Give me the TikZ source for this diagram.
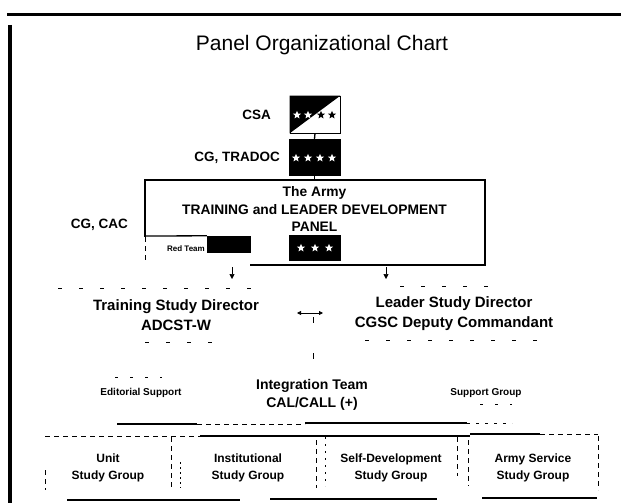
\documentclass[tikz,border=0pt]{standalone}
\usepackage{fontspec}
\setmainfont{Liberation Sans}
\usetikzlibrary{shapes.geometric,arrows.meta}
\newcommand\mystar[4]{\node[starshape,fill=#4] (#1) at (#2,#3) {};}
\begin{document}
\begin{tikzpicture}[x=1pt,y=-1pt,
  ln/.style={line width=1.3pt},
  faint/.style={line width=0.7pt,dash pattern=on 4pt off 17pt},
  thin dashed/.style={line width=0.9pt,dash pattern=on 5pt off 4pt},
  starshape/.style={star,star points=5,star point ratio=2.3,minimum size=8.5pt,inner sep=0pt,draw=none},
  blackbox/.style={fill=black,draw=black,inner sep=0pt},
  lbl/.style={font=\fontsize{13.5}{15}\selectfont\bfseries,inner sep=0pt},
  dir/.style={font=\fontsize{15}{20}\selectfont\bfseries,align=center,inner sep=0pt},
  small/.style={font=\fontsize{10}{12}\selectfont\bfseries,inner sep=0pt},
  grp/.style={font=\fontsize{12}{17}\selectfont\bfseries,align=center,inner sep=0pt},
  tip/.style={-{Triangle[length=5pt,width=5pt]}}
]
\useasboundingbox (0,0) rectangle (621,503);
\fill[white] (0,0) rectangle (621,503);
% frame lines
\draw[line width=3pt] (7,15) -- (621,15);
\draw[line width=4pt] (10,25) -- (10,503);
% title
\node[font=\fontsize{21}{24}\selectfont,inner sep=0pt] (title) at (322,45) {Panel Organizational Chart};
% CSA
\node[draw=black,line width=0.6pt,minimum width=50pt,minimum height=37pt,inner sep=0pt] (csa) at (315,114.5) {};
\fill[black] (csa.north west) -- (csa.north east) -- (csa.south west) -- cycle;
\mystar{cs1}{297}{115}{white}
\mystar{cs2}{308}{115}{white}
\mystar{cs3}{321}{115}{black}
\mystar{cs4}{332}{115}{black}
\node[lbl,anchor=east] (csalbl) at (271,115) {CSA};
% TRADOC
\node[blackbox,minimum width=51pt,minimum height=36pt] (tradoc) at (314.5,157) {};
\mystar{ts1}{296}{158}{white}
\mystar{ts2}{308}{158}{white}
\mystar{ts3}{320}{158}{white}
\mystar{ts4}{332}{158}{white}
\node[lbl,anchor=east] (tradoclbl) at (280,158) {CG, TRADOC};
% panel
\node[font=\fontsize{13.8}{17.5}\selectfont\bfseries,align=center,inner sep=0pt] (panel) at (314.5,209) {The Army\\TRAINING and LEADER DEVELOPMENT\\PANEL};
\coordinate (ptop) at (314.5,180);
\draw[ln] (250,265) -- (485,265) -- (485,180) -- (145,180) -- (145,237);
\draw[thin dashed] (145,237) -- (145,262);
\node[blackbox,minimum width=51pt,minimum height=25pt] (three) at (314.5,247.5) {};
\mystar{ps1}{301}{248}{white}
\mystar{ps2}{315}{248}{white}
\mystar{ps3}{329}{248}{white}
\node[blackbox,minimum width=43pt,minimum height=16pt] (red) at (228.5,244) {};
\node[font=\fontsize{8}{9}\selectfont\bfseries,inner sep=0pt,anchor=east] (redlbl) at (205,249) {Red Team};
\draw[ln] (145,236) -- (red.north west);
\node[lbl,anchor=east] (cac) at (128,225) {CG, CAC};
% connectors top
\draw[ln] (csa.south) -- (tradoc.north);
\draw[ln] (tradoc.south) -- (ptop);
% directors
\node[dir] (train) at (176,315) {Training Study Director\\ADCST-W};
\node[dir] (lead) at (454,314) {Leader Study Director\\CGSC Deputy Commandant};
\draw[faint] (58,288) -- (258,288);
\draw[faint] (145,342) -- (215,342);
\draw[faint] (400,286) -- (490,286);
\draw[faint] (365,340) -- (550,340);
\coordinate (ta) at (232,279);
\coordinate (la) at (386,279);
\draw[line width=0.5pt,tip] (232,267) -- (ta);
\draw[line width=0.5pt,tip] (386,267) -- (la);
\coordinate (dl) at (297,313);
\coordinate (dr) at (323,313);
\draw[line width=0.8pt,{Triangle[length=4pt,width=4pt]}-{Triangle[length=4pt,width=4pt]}] (dl) -- (dr);
\coordinate (vtop) at (313,317);
\coordinate (vbot) at (313,380);
\draw[line width=0.8pt,dash pattern=on 6pt off 30pt] (vtop) -- (vbot);
% integration row
\node[font=\fontsize{14}{18}\selectfont\bfseries,align=center,inner sep=0pt] (integ) at (312,395) {Integration Team\\CAL/CALL (+)};
\node[small] (edit) at (141,393) {Editorial Support};
\node[small] (supp) at (486,393) {Support Group};
\draw[faint,dash pattern=on 3pt off 12pt] (115,377) -- (162,377);
\draw[faint,dash pattern=on 3pt off 12pt] (480,404) -- (512,404);
\draw[ln] (117,424) -- (197,424);
\draw[thin dashed] (197,424) -- (305,424);
\draw[ln] (305,423) -- (467,423);
\draw[line width=0.8pt,dash pattern=on 3pt off 6pt] (467,423) -- (512,423);
% study groups
\node[grp,minimum width=126pt,minimum height=64pt] (unit) at (108,468) {Unit\\Study Group};
\node[grp,minimum width=136pt,minimum height=64pt] (inst) at (248,468) {Institutional\\Study Group};
\node[grp,minimum width=132pt,minimum height=64pt] (self) at (391,468) {Self-Development\\Study Group};
\node[grp,minimum width=130pt,minimum height=64pt] (army) at (533,468) {Army Service\\Study Group};
\draw[thin dashed] (45,436) -- (200,436);
\draw[ln] (200,436) -- (470,436);
\draw[ln] (470,434) -- (540,434);
\draw[thin dashed] (540,434) -- (598,434);
\draw[thin dashed] (45,470) -- (45,490);
\draw[thin dashed] (171,437) -- (171,488);
\draw[line width=0.8pt,dash pattern=on 2pt off 3pt] (180,462) -- (180,488);
\draw[thin dashed] (316,440) -- (316,488);
\draw[line width=0.8pt,dash pattern=on 2pt off 5pt] (325,437) -- (325,486);
\draw[thin dashed] (457,437) -- (457,476);
\draw[thin dashed] (468,440) -- (468,486);
\draw[thin dashed] (598,436) -- (598,490);
\draw[ln] (67,500) -- (240,500);
\draw[ln] (270,499) -- (437,499);
\draw[ln] (482,498) -- (597,498);
\end{tikzpicture}
\end{document}
